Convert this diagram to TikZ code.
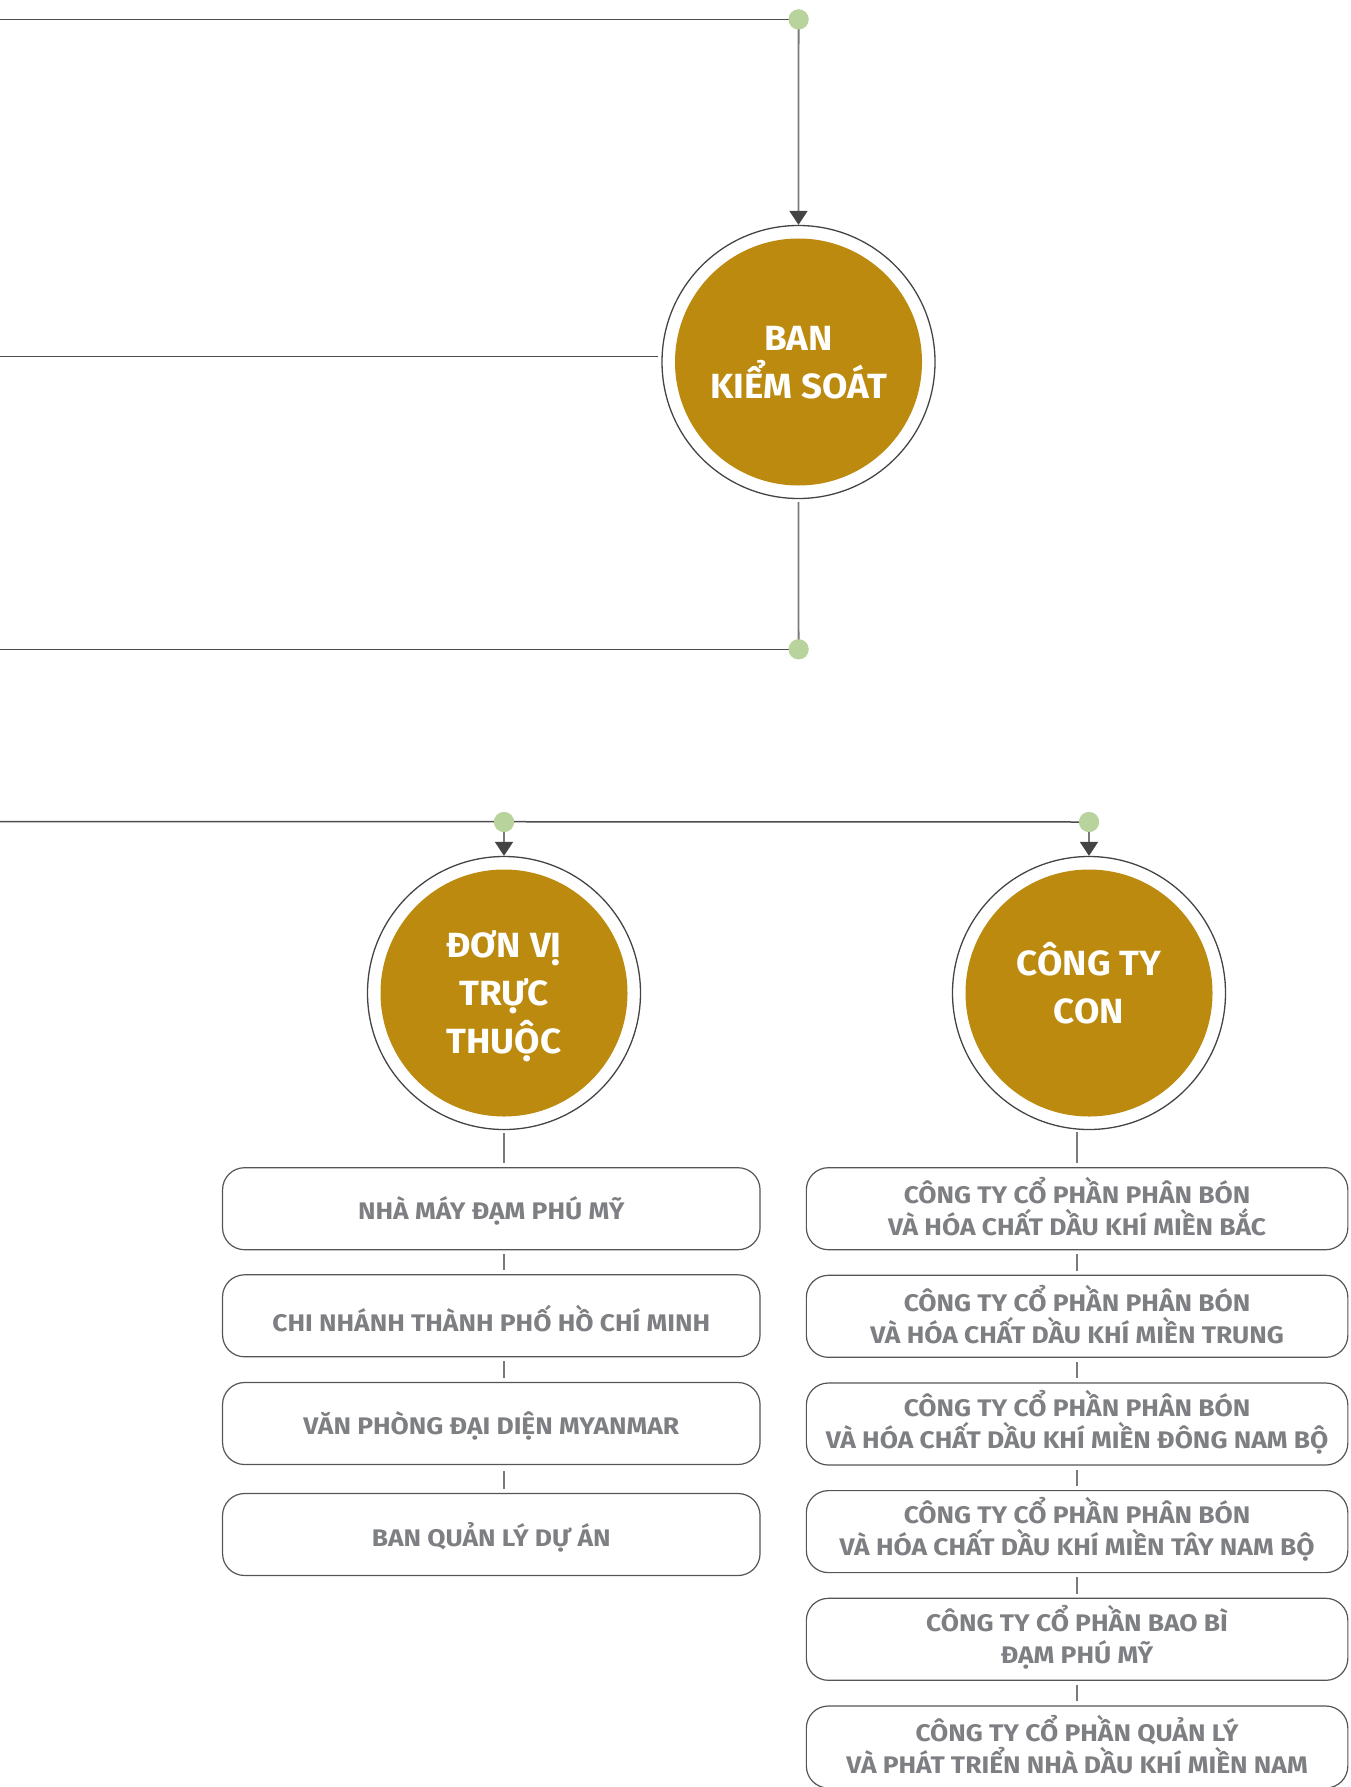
\documentclass[tikz,border=0pt]{standalone}
\usepackage{fontspec}
\setmainfont{Fira Sans}
\newfontfamily\boxfont{Fira Sans}[FakeStretch=1.1]
\newfontfamily\circfont{Fira Sans}[FakeStretch=1.05]
\usetikzlibrary{arrows.meta,calc}
\definecolor{gold}{HTML}{BB8A0E}
\definecolor{dotgreen}{HTML}{B9D39C}
\definecolor{linegray}{HTML}{4D4D4D}
\definecolor{vgray}{HTML}{7A7A7A}
\definecolor{ringgray}{HTML}{444444}
\definecolor{boxgray}{HTML}{555555}
\definecolor{txtgray}{HTML}{7E7F83}
\newcommand{\oneline}[1]{\raisebox{-2.5pt}[\height][\depth]{#1}}
\newcommand{\twolines}[2]{\raisebox{2pt}[\height][\depth]{\parbox{520pt}{\centering #1\\#2}}}
\begin{document}
\begin{tikzpicture}[x=1pt,y=-1pt,
  ring/.style={circle, draw=ringgray, line width=1.3pt, minimum size=273pt, inner sep=0pt},
  core/.style={circle, fill=gold, minimum size=247pt, inner sep=0pt},
  coretext/.style={text=white, align=center, inner sep=0pt,
    font=\circfont\fontsize{35}{48}\selectfont\bfseries},
  jdot/.style={circle, fill=dotgreen, minimum size=20pt, inner sep=0pt},
  unitbox/.style={draw=boxgray, line width=1.2pt, rounded corners=22pt, minimum height=82pt,
    inner sep=0pt, text=txtgray, font=\boxfont\fontsize{24}{32}\selectfont\bfseries},
  lbox/.style={unitbox, minimum width=537.5pt},
  rbox/.style={unitbox, minimum width=541.5pt},
  link/.style={draw=linegray, line width=1.5pt},
  vlink/.style={draw=vgray, line width=1.8pt},
  arr/.style={vlink, arrows={-{Triangle[width=18pt,length=14pt,color=ringgray]}}}
]
\useasboundingbox (0,0) rectangle (1350,1787);

% ---- top part
\coordinate (topL) at (0,19.4);
\coordinate (midL) at (0,356.7);
\coordinate (botL) at (0,649.3);
\node[jdot] (d1) at (798.6,19.4) {};
\node[jdot] (d2) at (798.6,649.3) {};
\node[ring] (bksR) at (798.5,362) {};
\node[core] (bks) at (798.5,362) {};
\node[coretext] (bksT) at (798.5,363) {BAN\\KIỂM SOÁT};

\draw[link] (topL) -- (d1.center);
\draw[arr] (d1.center) -- (bksR.north);
\draw[link] (midL) -- ($(midL -| bksR.west)+(-3,0)$);
\draw[vlink] ($(bksR.south)+(0,3)$) -- (d2.center);
\draw[link] (botL) -- (d2.center);
\node[jdot] at (d1) {};
\node[jdot] at (d2) {};

% ---- second level
\coordinate (lvL) at (0,821.5);
\node[jdot] (d3) at (504,822) {};
\node[jdot] (d4) at (1089,822) {};
\node[ring] (dvR) at (504,993) {};
\node[core] (dv) at (504,993) {};
\node[coretext] (dvT) at (504,996) {ĐƠN VỊ\\TRỰC\\THUỘC};
\node[ring] (ctR) at (1089,993) {};
\node[core] (ct) at (1089,993) {};
\node[coretext] (ctT) at (1089,983) {CÔNG TY\\CON};

\draw[link] (lvL) -- (d4.center);
\draw[arr] (d3.center) -- (dvR.north);
\draw[arr] (d4.center) -- (ctR.north);
\node[jdot] at (d3) {};
\node[jdot] at (d4) {};

% ---- left column
\coordinate (lx) at (504,0);
\node[lbox] (l1) at (491.3,1208.7) {\oneline{NHÀ MÁY ĐẠM PHÚ MỸ}};
\node[lbox] (l2) at (491.3,1315.8) {\oneline{CHI NHÁNH THÀNH PHỐ HỒ CHÍ MINH}};
\node[lbox] (l3) at (491.3,1423.5) {\oneline{VĂN PHÒNG ĐẠI DIỆN MYANMAR}};
\node[lbox] (l4) at (491.3,1534.5) {\oneline{BAN QUẢN LÝ DỰ ÁN}};

\draw[vlink] ($(dvR.south)+(0,3)$) -- ($(l1.north -| lx)+(0,-4)$);
\draw[vlink] ($(l1.south -| lx)+(0,4)$) -- ($(l2.north -| lx)+(0,-4)$);
\draw[vlink] ($(l2.south -| lx)+(0,4)$) -- ($(l3.north -| lx)+(0,-4)$);
\draw[vlink] ($(l3.south -| lx)+(0,6)$) -- ($(l4.north -| lx)+(0,-4)$);

% ---- right column
\coordinate (rx) at (1077,0);
\node[rbox] (r1) at (1077.1,1208.7) {\twolines{CÔNG TY CỔ PHẦN PHÂN BÓN}{VÀ HÓA CHẤT DẦU KHÍ MIỀN BẮC}};
\node[rbox] (r2) at (1077.1,1316.3) {\twolines{CÔNG TY CỔ PHẦN PHÂN BÓN}{VÀ HÓA CHẤT DẦU KHÍ MIỀN TRUNG}};
\node[rbox] (r3) at (1077.1,1424) {\twolines{CÔNG TY CỔ PHẦN PHÂN BÓN}{VÀ HÓA CHẤT DẦU KHÍ MIỀN ĐÔNG NAM BỘ}};
\node[rbox] (r4) at (1077.1,1531.6) {\twolines{CÔNG TY CỔ PHẦN PHÂN BÓN}{VÀ HÓA CHẤT DẦU KHÍ MIỀN TÂY NAM BỘ}};
\node[rbox] (r5) at (1077.1,1639.3) {\twolines{CÔNG TY CỔ PHẦN BAO BÌ}{ĐẠM PHÚ MỸ}};
\node[rbox] (r6) at (1077.1,1747) {\twolines{CÔNG TY CỔ PHẦN QUẢN LÝ}{VÀ PHÁT TRIỂN NHÀ DẦU KHÍ MIỀN NAM}};

\draw[vlink] ($(ctR.south -| rx)+(0,2)$) -- ($(r1.north -| rx)+(0,-4)$);
\draw[vlink] ($(r1.south -| rx)+(0,4)$) -- ($(r2.north -| rx)+(0,-4)$);
\draw[vlink] ($(r2.south -| rx)+(0,4)$) -- ($(r3.north -| rx)+(0,-4)$);
\draw[vlink] ($(r3.south -| rx)+(0,4)$) -- ($(r4.north -| rx)+(0,-4)$);
\draw[vlink] ($(r4.south -| rx)+(0,4)$) -- ($(r5.north -| rx)+(0,-4)$);
\draw[vlink] ($(r5.south -| rx)+(0,4)$) -- ($(r6.north -| rx)+(0,-4)$);
\end{tikzpicture}
\end{document}
